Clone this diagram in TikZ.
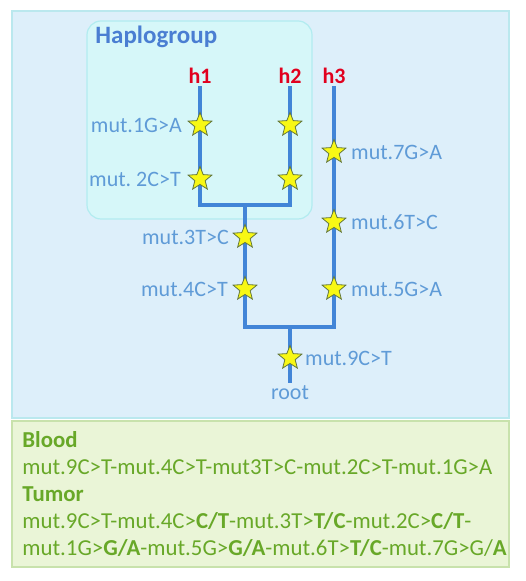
\documentclass[tikz,border=0pt]{standalone}
\usepackage{fontspec}
\setmainfont{Carlito}
\usetikzlibrary{shapes.geometric,positioning}

\definecolor{outerfill}{RGB}{221,239,250}
\definecolor{outerline}{RGB}{186,232,238}
\definecolor{hapfill}{RGB}{214,247,249}
\definecolor{hapline}{RGB}{178,236,240}
\definecolor{seqfill}{RGB}{234,245,215}
\definecolor{seqline}{RGB}{200,226,172}
\definecolor{treeblue}{RGB}{66,133,215}
\definecolor{labblue}{RGB}{95,155,215}
\definecolor{titleblue}{RGB}{74,126,210}
\definecolor{leafred}{RGB}{225,0,30}
\definecolor{seqgreen}{RGB}{104,168,40}
\definecolor{starfill}{RGB}{248,248,20}
\definecolor{starline}{RGB}{100,120,60}

\tikzset{
  branch/.style={treeblue, line width=2pt},
  mutstar/.style={star, star points=5, star point ratio=2.3, minimum size=12.5pt,
    inner sep=0pt, fill=starfill, draw=starline, line width=0.4pt},
  mutlab/.style={text=labblue, font=\fontsize{11}{13}\selectfont, inner sep=1pt},
  leaf/.style={text=leafred, font=\fontsize{11}{13}\selectfont\bfseries, inner sep=1pt, anchor=south}
}

\begin{document}
\begin{tikzpicture}[x=0.5pt, y=-0.5pt]
        \useasboundingbox (0,0) rectangle (525,581);
        % panels
        \draw[outerline, fill=outerfill, line width=0.6pt] (12,11) rectangle (509,418);
        \draw[hapline, fill=hapfill, line width=0.6pt, rounded corners=7pt] (87,21) rectangle (312,219);
        \draw[seqline, fill=seqfill, line width=0.6pt] (12,421) rectangle (509,567);
        \node[anchor=west, text=titleblue, inner sep=0pt, font=\fontsize{12.5}{14}\selectfont\bfseries] (hap) at (95,37) {Haplogroup};

        % leaves
        \node[leaf] (h1) at (200,86) {h1};
        \node[leaf] (h2) at (290,86) {h2};
        \node[leaf] (h3) at (334,86) {h3};
        \node[mutlab, anchor=north] (root) at (290,383) {root};

        % junctions
        \coordinate (a1) at (200,205);
        \coordinate (a2) at (290,205);
        \coordinate (b) at (245,205);
        \coordinate (c1) at (245,327);
        \coordinate (c2) at (334,327);
        \coordinate (r) at (290,327);

        \draw[branch] (h1.south) -- (a1) -- (a2) -- (h2.south);
        \draw[branch] (b) -- (c1) -- (c2) -- (h3.south);
        \draw[branch] (r) -- (root.north);

        % mutations
        \node[mutstar] (s1) at (200,125) {};
        \node[mutstar] (s2) at (200,179) {};
        \node[mutstar] (s1b) at (290,125) {};
        \node[mutstar] (s2b) at (290,179) {};
        \node[mutstar] (s7) at (334,152) {};
        \node[mutstar] (s6) at (334,222) {};
        \node[mutstar] (s5) at (334,289) {};
        \node[mutstar] (s3) at (245,237) {};
        \node[mutstar] (s4) at (245,289) {};
        \node[mutstar] (s9) at (290,358) {};

        \node[mutlab, left=4pt of s1] (m1) {mut.1G>A};
        \node[mutlab, left=4.5pt of s2] (m2) {mut.\ 2C>T};
        \node[mutlab, left=3pt of s3] (m3) {mut.3T>C};
        \node[mutlab, left=3.5pt of s4] (m4) {mut.4C>T};
        \node[mutlab, right=3.5pt of s5] (m5) {mut.5G>A};
        \node[mutlab, right=3.5pt of s6] (m6) {mut.6T>C};
        \node[mutlab, right=3.5pt of s7] (m7) {mut.7G>A};
        \node[mutlab, right=2.5pt of s9] (m9) {mut.9C>T};

        % sequences
        \node[anchor=north west, align=left, inner sep=0pt, text=seqgreen,
              font=\fontsize{11.4}{13.5}\selectfont] (seq) at (22,431)
        {\textbf{Blood}\\
         mut.9C>T-mut.4C>T-mut3T>C-mut.2C>T-mut.1G>A\\
         \textbf{Tumor}\\
         mut.9C>T-mut.4C>\textbf{C/T}-mut.3T>\textbf{T/C}-mut.2C>\textbf{C/T}-\\
         mut.1G>\textbf{G/A}-mut.5G>\textbf{G/A}-mut.6T>\textbf{T/C}-mut.7G>G/\textbf{A}};
\end{tikzpicture}
\end{document}
